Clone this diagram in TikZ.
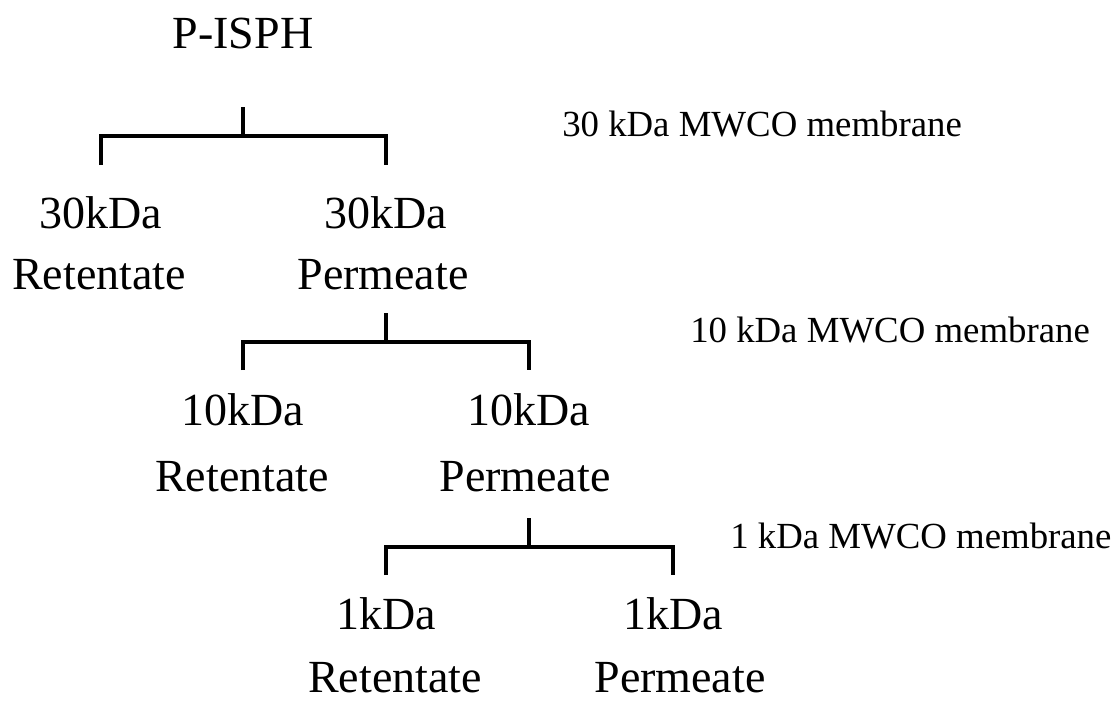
\documentclass[tikz,border=0pt]{standalone}
\usepackage{fontspec}
\setmainfont{Liberation Serif}
\usepackage{tikz}

\tikzset{
  frac/.style={anchor=base, inner sep=0pt, font=\fontsize{34.5}{40}\selectfont},
  mwco/.style={anchor=base west, inner sep=0pt, font=\fontsize{27.6}{32}\selectfont},
  split/.style={line width=3pt},
}

\begin{document}
\begin{tikzpicture}[x=0.75pt, y=-0.75pt]
\useasboundingbox (0,0) rectangle (1117,700);

% Nodes
\node[frac] (isph) at (243,48) {P-ISPH};
\node[frac] (r30a) at (101,228) {30kDa};
\node[frac] (r30b) at (99,289) {Retentate};
\node[frac] (p30a) at (386,228) {30kDa};
\node[frac] (p30b) at (383,289) {Permeate};
\node[frac] (r10a) at (243,425) {10kDa};
\node[frac] (r10b) at (242,491) {Retentate};
\node[frac] (p10a) at (529,425) {10kDa};
\node[frac] (p10b) at (525,491) {Permeate};
\node[frac] (r1a) at (386,629) {1kDa};
\node[frac] (r1b) at (395,692) {Retentate};
\node[frac] (p1a) at (673,629) {1kDa};
\node[frac] (p1b) at (680,692) {Permeate};

% Membrane labels
\node[mwco] (m30) at (562,136) {30 kDa MWCO membrane};
\node[mwco] (m10) at (690,342) {10 kDa MWCO membrane};
\node[mwco] (m1) at (730,548) {1 kDa MWCO membrane};

% Splits
\draw[split] (isph.south |- 0,107) -- (isph.south |- 0,136);
\draw[split] (r30a.north |- 0,165) |- (p30a.north |- 0,136) -- (p30a.north |- 0,165);

\draw[split] (p30a.north |- 0,313) -- (p30a.north |- 0,342);
\draw[split] (r10a.north |- 0,370) |- (p10a.north |- 0,342) -- (p10a.north |- 0,370);

\draw[split] (p10a.north |- 0,518) -- (p10a.north |- 0,547);
\draw[split] (r1a.north |- 0,575) |- (p1a.north |- 0,547) -- (p1a.north |- 0,575);

\end{tikzpicture}
\end{document}
